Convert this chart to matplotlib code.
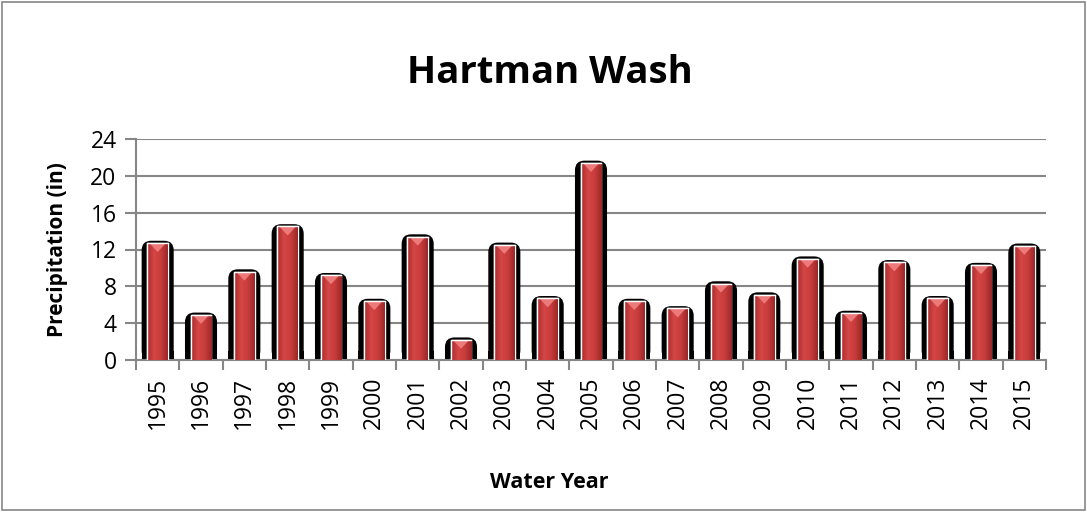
import numpy as np
import matplotlib
matplotlib.use('Agg')
import matplotlib.pyplot as plt
from matplotlib.patches import FancyBboxPatch, Rectangle
from matplotlib.colors import LinearSegmentedColormap

plt.rcParams['font.family'] = ['Open Sans', 'DejaVu Sans']

# donnees
years = ['1995', '1996', '1997', '1998', '1999', '2000', '2001', '2002', '2003', '2004', '2005',
         '2006', '2007', '2008', '2009', '2010', '2011', '2012', '2013', '2014', '2015']
precip = [12.7, 4.9, 9.6, 14.5, 9.2, 6.4, 13.4, 2.2, 12.5, 6.7, 21.4,
          6.4, 5.6, 8.3, 7.1, 11.0, 5.1, 10.6, 6.7, 10.3, 12.4]
yticks = [0, 4, 8, 12, 16, 20, 24]

fig = plt.figure(figsize=(10.87, 5.12), dpi=100)
ax = fig.add_axes([136/1087, 1-360/512, (1046-136)/1087, (360-139)/512])

x = np.arange(len(years))
ax.set_xlim(-0.5, len(years)-0.5)
ax.set_ylim(0, 24)

# aspect pour arrondir les coins (unites y par unite x)
px_x = (1046-136)/len(years)
px_y = (360-139)/24.0
aspect = px_x/px_y

# ombre noire arrondie
for xi, v in zip(x, precip):
    sh = FancyBboxPatch((xi-0.37, 0), 0.74, v+0.25,
                        boxstyle='round,pad=0,rounding_size=0.22',
                        mutation_aspect=aspect, facecolor='black', edgecolor='none', zorder=2)
    ax.add_patch(sh)
    ax.add_patch(Rectangle((xi-0.37, 0), 0.74, min(v, 1), facecolor='black', edgecolor='none', zorder=2))

bars = ax.bar(x, precip, width=0.48, color='#c43a3a', edgecolor='white', linewidth=1.0, zorder=3)

cmap = LinearSegmentedColormap.from_list('cyl', ['#a82c2c', '#d54646', '#c83c3c', '#9a2828'])
grad = np.linspace(0, 1, 64).reshape(1, -1)
for b in bars:
    bx, bw, bh = b.get_x(), b.get_width(), b.get_height()
    im = ax.imshow(grad, cmap=cmap, extent=(bx, bx+bw, 0, bh), aspect='auto', zorder=3.5)
    im.set_clip_path(b)
    # petit triangle en haut
    th = 9/px_y
    ax.fill([bx+bw*0.12, bx+bw*0.88, bx+bw/2], [bh-0.05, bh-0.05, bh-th],
            color='#ec7a7a', zorder=4, lw=0)
    ax.plot([bx, bx, bx+bw], [0, bh, bh], color='white', lw=1.0, zorder=4.5)
ax.set_xlim(-0.5, len(years)-0.5)
ax.set_ylim(0, 24)

ax.set_yticks(yticks)
ax.set_yticklabels([str(t) for t in yticks], fontsize=16.5)
ax.set_xticks(x)
ax.set_xticklabels(years, rotation=90, fontsize=16.5)
ax.set_xticks(np.arange(-0.5, len(years)), minor=True)
ax.tick_params(axis='x', which='major', length=0, pad=12)
ax.tick_params(axis='x', which='minor', length=7, color='#868686', width=1.5)
ax.tick_params(axis='y', length=8, color='#868686', width=1.5, pad=6)

ax.yaxis.grid(True, color='#868686', lw=1.5, zorder=0)
ax.set_axisbelow(True)
for s in ['top', 'right']:
    ax.spines[s].set_visible(False)
for s in ['left', 'bottom']:
    ax.spines[s].set_color('#868686')
    ax.spines[s].set_linewidth(1.5)

fig.text(550/1087, 1-73/512, 'Hartman Wash', fontsize=27.5, fontweight='bold', ha='center', va='center')
fig.text(58/1087, 1-(139+360)/2/512, 'Precipitation (in)', fontsize=15, fontweight='bold',
         rotation=90, ha='center', va='center')
fig.text(549/1087, 1-482/512, 'Water Year', fontsize=15.5, fontweight='bold', ha='center', va='center')

fig.patches.append(Rectangle((2/1087, 2/512), 1083/1087, 508/512, transform=fig.transFigure,
                             fill=False, edgecolor='#868686', lw=1.2))

fig.savefig('out.png', dpi=100)
